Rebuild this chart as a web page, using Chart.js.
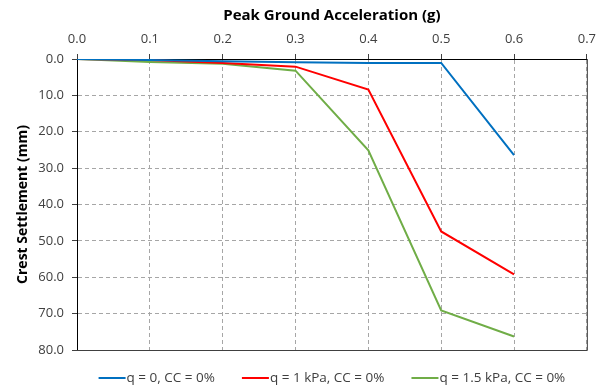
<!DOCTYPE html>
<html>
<head>
<meta charset="utf-8">
<style>
  html, body { margin: 0; padding: 0; background: #ffffff; }
  #wrap { width: 603px; height: 387px; }
</style>
<script src="https://cdn.jsdelivr.net/npm/chart.js@4/dist/chart.umd.min.js"></script>
</head>
<body>
<div id="wrap"><canvas id="c" width="603" height="387"></canvas></div>
<script>
// Peak ground acceleration (g) at which each case was run
const pga = [0.0, 0.1, 0.2, 0.3, 0.4, 0.5, 0.6];

// Crest settlement (mm) per case
const settleQ0 = [0.0, 0.3, 0.6, 0.9, 1.1, 1.1, 26.4];
const settleQ1 = [0.0, 0.3, 1.1, 2.1, 8.4, 47.4, 59.2];
const settleQ15 = [0.0, 0.8, 1.3, 3.2, 25.1, 69.1, 76.3];

const seriesLabels = ['q = 0, CC = 0%', 'q = 1 kPa, CC = 0%', 'q = 1.5 kPa, CC = 0%'];
const seriesColors = ['#0070C0', '#FF0000', '#70AD47'];
const xTitle = 'Peak Ground Acceleration (g)';
const yTitle = 'Crest Settlement (mm)';

const pts = (ys) => pga.map((x, i) => ({ x: x, y: ys[i] }));

const FONT = "'Open Sans', 'Noto Sans', sans-serif";
const TXT = '#404040';

// Outline the right and bottom edges of the plot box
const frame = {
  id: 'frame',
  afterDraw(chart) {
    const { ctx, chartArea: a } = chart;
    ctx.save();
    ctx.strokeStyle = '#404040';
    ctx.lineWidth = 1;
    ctx.beginPath();
    ctx.moveTo(a.right + 0.5, a.top);
    ctx.lineTo(a.right + 0.5, a.bottom + 0.5);
    ctx.lineTo(a.left, a.bottom + 0.5);
    ctx.stroke();
    ctx.restore();
  }
};

// Legend under the plot: a short line swatch followed directly by the label
const lineLegend = {
  id: 'lineLegend',
  afterDraw(chart) {
    const { ctx, chartArea: a } = chart;
    const swatch = 27, gap = 1, spacing = 27;
    ctx.save();
    ctx.font = '13.5px ' + FONT;
    ctx.textBaseline = 'middle';
    const items = chart.data.datasets.map((d) => ({
      text: d.label, color: d.borderColor,
      w: swatch + gap + ctx.measureText(d.label).width
    }));
    const total = items.reduce((s, it) => s + it.w, 0) + spacing * (items.length - 1);
    let x = (a.left + a.right) / 2 - total / 2;
    const y = a.bottom + 28;
    items.forEach((it) => {
      ctx.strokeStyle = it.color;
      ctx.lineWidth = 2;
      ctx.beginPath();
      ctx.moveTo(x, y);
      ctx.lineTo(x + swatch, y);
      ctx.stroke();
      ctx.fillStyle = TXT;
      ctx.fillText(it.text, x + swatch + gap, y);
      x += it.w + spacing;
    });
    ctx.restore();
  }
};

const line = (label, data, color) => ({
  label, data: pts(data),
  borderColor: color, backgroundColor: color,
  borderWidth: 2, pointRadius: 0, tension: 0, fill: false
});

new Chart(document.getElementById('c'), {
  type: 'line',
  data: {
    datasets: [
      line(seriesLabels[0], settleQ0, seriesColors[0]),
      line(seriesLabels[1], settleQ1, seriesColors[1]),
      line(seriesLabels[2], settleQ15, seriesColors[2])
    ]
  },
  options: {
    responsive: false,
    animation: false,
    layout: { padding: { left: 0, right: 14, top: 4, bottom: 37 } },
    plugins: {
      tooltip: { enabled: false },
      legend: { display: false }
    },
    scales: {
      x: {
        type: 'linear',
        position: 'top',
        min: 0, max: 0.7,
        afterFit(s) { s.height = 55; },
        ticks: {
          stepSize: 0.1,
          color: TXT,
          padding: 7,
          font: { family: FONT, size: 13 },
          callback: (v) => Number(v).toFixed(1)
        },
        grid: {
          color: '#a6a6a6',
          lineWidth: 1,
          tickLength: 5,
          tickColor: '#404040'
        },
        border: { display: true, color: '#000000', width: 1, dash: [4, 3] },
        title: {
          display: true, text: xTitle, color: '#000000',
          font: { family: FONT, size: 15, weight: 'bold' },
          padding: { top: 3, bottom: 0 }
        }
      },
      y: {
        type: 'linear',
        reverse: true,
        min: 0, max: 80,
        afterFit(s) { s.width = 77; },
        ticks: {
          stepSize: 10,
          color: TXT,
          padding: 8,
          font: { family: FONT, size: 13 },
          callback: (v) => Number(v).toFixed(1)
        },
        grid: {
          color: '#a6a6a6',
          lineWidth: 1,
          tickLength: 5,
          tickColor: '#404040'
        },
        border: { display: true, color: '#000000', width: 1, dash: [4, 3] },
        title: {
          display: true, text: yTitle, color: '#000000',
          font: { family: FONT, size: 14, weight: 'bold' },
          padding: { top: 15, bottom: 0 }
        }
      }
    }
  },
  plugins: [frame, lineLegend]
});
</script>
</body>
</html>
